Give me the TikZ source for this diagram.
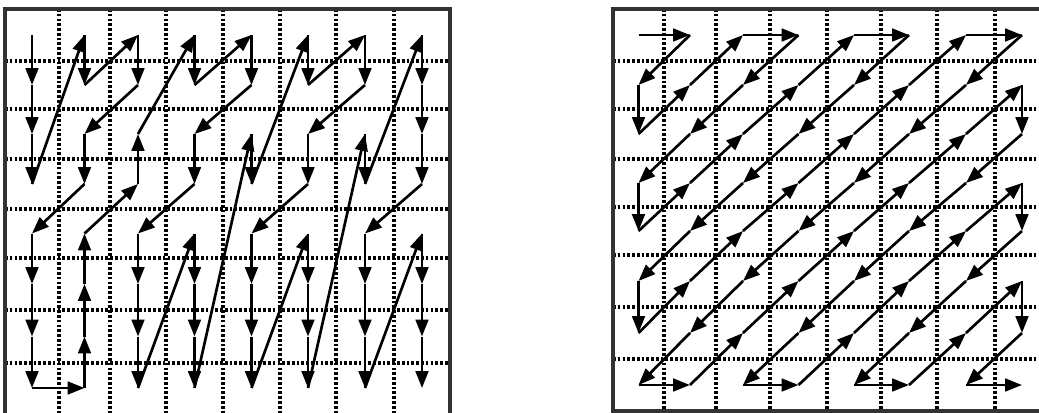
\documentclass[tikz,border=0pt]{standalone}
\usetikzlibrary{arrows.meta}
\tikzset{
  frame/.style={line width=2.6pt, black!80},
  gridline/.style={line width=2.3pt, dash pattern=on 1.9pt off 1.5pt},
  scan/.style={line width=1.9pt, -{Triangle[length=12pt,width=9pt]}},
}
\begin{document}
\begin{tikzpicture}[x=0.025cm, y=-0.025cm]
    \useasboundingbox (0,0) rectangle (1039,413);
    \clip (0,0) rectangle (1039,413);

    % Left block: dotted cells
    \foreach \x in {59,110,166,223,280,336,394}
        \draw[gridline] (\x,9) -- (\x,413);
    \foreach \y in {61,109,159,209,258,310,363}
        \draw[gridline] (5,\y) -- (450,\y);
    \draw[frame] (5,9) rectangle (450,415);

    % Right block: dotted cells
    \foreach \x in {664,716,770,827,881,937,995}
        \draw[gridline] (\x,9) -- (\x,411);
    \foreach \y in {61,109,159,207,255,307,359}
        \draw[gridline] (613,\y) -- (1049,\y);
    \draw[frame] (613,9) rectangle (1049,411);

    % Cell centres
    \foreach \c/\x in {0/32,1/84.5,2/138,3/194.5,4/251.5,5/308,6/365,7/422}
        \foreach \r/\y in {0/35,1/85,2/134,3/184,4/233.5,5/284,6/336.5,7/388}
            \coordinate (L-\r-\c) at (\x,\y);
    \foreach \c/\x in {0/638.5,1/690,2/743,3/798.5,4/854,5/909,6/966,7/1022}
        \foreach \r/\y in {0/35,1/85,2/134,3/183,4/231,5/281,6/333,7/385}
            \coordinate (R-\r-\c) at (\x,\y);

    % Alternate scan
    \foreach \p [remember=\p as \q (initially 0-0)] in {1-0,2-0,3-0,0-1,1-1,0-2,1-2,2-1,3-1,4-0,5-0,6-0,7-0,7-1,6-1,5-1,4-1,3-2,2-2,0-3,1-3,0-4,1-4,2-3,3-3,4-2,5-2,6-2,7-2,4-3,5-3,6-3,7-3,2-4,3-4,0-5,1-5,0-6,1-6,2-5,3-5,4-4,5-4,6-4,7-4,4-5,5-5,6-5,7-5,2-6,3-6,0-7,1-7,2-7,3-7,4-6,5-6,6-6,7-6,4-7,5-7,6-7,7-7}
        \draw[scan] (L-\q) -- (L-\p);

    % Zigzag scan
    \foreach \p [remember=\p as \q (initially 0-0)] in {0-1,1-0,2-0,1-1,0-2,0-3,1-2,2-1,3-0,4-0,3-1,2-2,1-3,0-4,0-5,1-4,2-3,3-2,4-1,5-0,6-0,5-1,4-2,3-3,2-4,1-5,0-6,0-7,1-6,2-5,3-4,4-3,5-2,6-1,7-0,7-1,6-2,5-3,4-4,3-5,2-6,1-7,2-7,3-6,4-5,5-4,6-3,7-2,7-3,6-4,5-5,4-6,3-7,4-7,5-6,6-5,7-4,7-5,6-6,5-7,6-7,7-6,7-7}
        \draw[scan] (R-\q) -- (R-\p);
\end{tikzpicture}
\end{document}
